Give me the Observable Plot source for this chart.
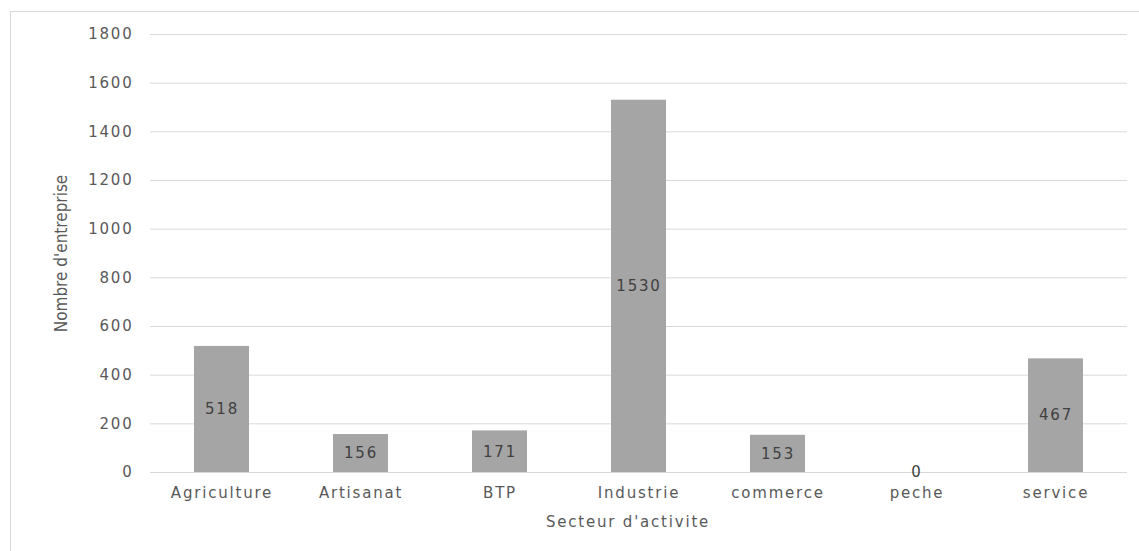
<!DOCTYPE html>
<html>
<head>
<meta charset="utf-8">
<script src="https://cdn.jsdelivr.net/npm/d3@7"></script>
<script src="https://cdn.jsdelivr.net/npm/@observablehq/plot@0.6"></script>
<style>
  html, body { margin: 0; padding: 0; background: #fff; }
  #wrap { position: relative; width: 1139px; height: 551px; overflow: hidden; }
  #border { position: absolute; left: 10px; top: 11px; width: 1200px; height: 600px;
            border-left: 1px solid #d9d9d9; border-top: 1px solid #d9d9d9; }
  #chart { position: absolute; left: 0; top: 0; }
</style>
</head>
<body>
<div id="wrap"><div id="border"></div><div id="chart"></div></div>
<script>
const categories = ["Agriculture", "Artisanat", "BTP", "Industrie", "commerce", "peche", "service"];
const values = [518, 156, 171, 1530, 153, 0, 467];
const yTicks = [0, 200, 400, 600, 800, 1000, 1200, 1400, 1600, 1800];
const xTitle = "Secteur d'activite";
const yTitle = "Nombre d'entreprise";

const data = categories.map((c, i) => ({ category: c, value: values[i] }));

const font = "DejaVu Sans, sans-serif";
const narrow = "Liberation Sans Narrow, DejaVu Sans Condensed, sans-serif";

const chart = Plot.plot({
  width: 1139,
  height: 551,
  marginLeft: 150,
  marginRight: 12,
  marginTop: 34,
  marginBottom: 79,
  style: { background: "transparent", fontFamily: font, overflow: "visible" },
  x: { domain: categories, paddingInner: 0.606, paddingOuter: 0.3 },
  y: { domain: [0, 1800] },
  marks: [
    Plot.gridY(yTicks, { stroke: "#d9d9d9", strokeOpacity: 1, strokeWidth: 1 }),
    Plot.barY(data, { x: "category", y: "value", fill: "#a5a5a5" }),
    Plot.text(data, {
      x: "category", y: d => d.value / 2, text: d => String(d.value),
      fill: "#404040", fontSize: 15, fontFamily: font
    }),
    Plot.axisY({
      ticks: yTicks, tickFormat: d => String(d), tickSize: 0, tickPadding: 17, label: null,
      fill: "#595959", fontSize: 15, fontFamily: font
    }),
    Plot.axisY({
      ticks: [], label: yTitle, labelAnchor: "center", labelArrow: "none",
      labelOffset: 96, fill: "#595959", fontSize: 17, fontFamily: narrow
    }),
    Plot.axisX({
      tickSize: 0, tickPadding: 15, label: null, fill: "#595959", fontSize: 15,
      fontFamily: font
    }),
    Plot.axisX({
      ticks: [], label: xTitle, labelAnchor: "center",
      labelArrow: "none", labelOffset: 54, fill: "#595959", fontSize: 15,
      fontFamily: font
    })
  ]
});
chart.querySelectorAll("text").forEach(t => t.setAttribute("letter-spacing", "1.8"));
chart.querySelectorAll("g[aria-label='y-axis label'] text, text[aria-label='y-axis label']")
  .forEach(t => t.setAttribute("letter-spacing", "0"));
chart.querySelectorAll("g[aria-label='x-axis label'] text, text[aria-label='x-axis label']")
  .forEach(t => t.setAttribute("transform", (t.getAttribute("transform") || "") + " translate(-11,0)"));
document.getElementById("chart").appendChild(chart);
</script>
</body>
</html>
